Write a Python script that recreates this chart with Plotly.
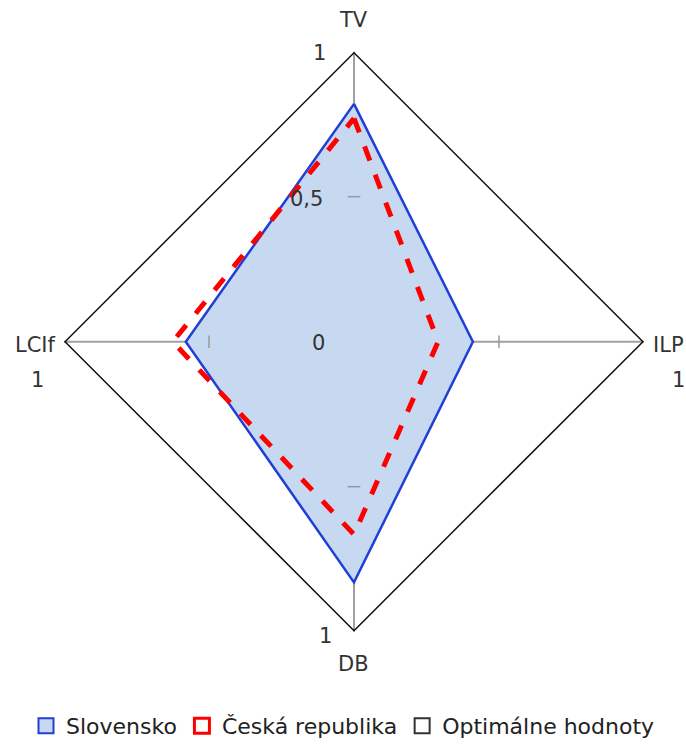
import plotly.graph_objects as go

# Axes of the radar chart (clockwise from top)
axes = ["TV", "ILP", "DB", "LCIf"]

# Indicator values per country
slovensko = [0.82, 0.41, 0.83, 0.58]
ceska_republika = [0.77, 0.29, 0.665, 0.625]
optimalne_hodnoty = [1, 1, 1, 1]

# Radial scale labels along the TV axis
scale_labels = ["0", "0,5", "1"]
tick_marks = [0.5, 0.5, 0.5, 0.5]

FONT = "DejaVu Sans, Liberation Sans, sans-serif"
TEXT_COLOR = "#333333"

SK_FILL = "rgb(198,217,241)"
SK_LINE = "#1f3fd6"
CZ_LINE = "#ff0000"
OPT_LINE = "#111111"


def closed(values):
    return values + values[:1]


fig = go.Figure()

fig.add_trace(go.Scatterpolar(
    r=closed(slovensko), theta=closed(axes),
    mode="lines", fill="toself", fillcolor=SK_FILL,
    line=dict(color=SK_LINE, width=2.5),
    name="Slovensko", showlegend=False,
))

fig.add_trace(go.Scatterpolar(
    r=closed(ceska_republika), theta=closed(axes),
    mode="lines",
    line=dict(color=CZ_LINE, width=5, dash="dash"),
    name="Česká republika", showlegend=False,
))

fig.add_trace(go.Scatterpolar(
    r=closed(optimalne_hodnoty), theta=closed(axes),
    mode="lines",
    line=dict(color=OPT_LINE, width=3),
    name="Optimálne hodnoty", showlegend=False,
))

# Small tick marks at 0.5 on each spoke
fig.add_trace(go.Scatterpolar(
    r=tick_marks, theta=axes, mode="markers",
    marker=dict(symbol=["line-ew", "line-ns", "line-ew", "line-ns"], size=9,
                line=dict(color="#999999", width=1.5)),
    showlegend=False, hoverinfo="skip",
))

# Square legend keys for the three series
legend_keys = [
    ("Slovensko", SK_FILL, SK_LINE),
    ("Česká republika", "white", CZ_LINE),
    ("Optimálne hodnoty", "white", "#333333"),
]
for name, fill, edge in legend_keys:
    fig.add_trace(go.Scatterpolar(
        r=[None], theta=[None], mode="markers", name=name,
        marker=dict(symbol="square", size=15, color=fill,
                    line=dict(color=edge, width=3 if edge == CZ_LINE else 2)),
    ))

label_font = dict(family=FONT, size=21, color=TEXT_COLOR)


def px(x, y, text):
    return dict(text=text, x=x / 686, y=1 - y / 747, xref="paper", yref="paper",
                xanchor="center", yanchor="middle",
                showarrow=False, font=label_font)


fig.update_layout(
    width=686, height=747,
    margin=dict(l=0, r=0, t=0, b=0),
    paper_bgcolor="white",
    plot_bgcolor="white",
    font=dict(family=FONT, size=21, color=TEXT_COLOR),
    polar=dict(
        domain=dict(x=[64 / 686, 644 / 686], y=[1 - 636 / 747, 1 - 52 / 747]),
        bgcolor="white",
        gridshape="linear",
        radialaxis=dict(range=[0, 1], showticklabels=False,
                        showline=False, showgrid=False, ticks=""),
        angularaxis=dict(rotation=90, direction="clockwise",
                         showline=False, showgrid=True,
                         gridcolor="#a0a0a0", gridwidth=2,
                         ticks="", showticklabels=False),
    ),
    legend=dict(orientation="h", x=0.5, xanchor="center",
                y=1 - 731 / 747, yanchor="middle",
                font=dict(family=FONT, size=22, color="#222222"),
                itemwidth=30),
    annotations=[
        # axis names
        px(353, 20, "TV"),
        px(668, 347, "ILP"),
        px(353, 668, "DB"),
        px(35, 347, "LCIf"),
        # radial scale along TV
        px(318, 345, scale_labels[0]),
        px(306, 200, scale_labels[1]),
        px(319, 53, scale_labels[2]),
        # scale maxima repeated at the other axes
        px(37, 383, "1"),
        px(678, 383, "1"),
        px(325, 640, "1"),
    ],
)

fig.write_html("out.html")
